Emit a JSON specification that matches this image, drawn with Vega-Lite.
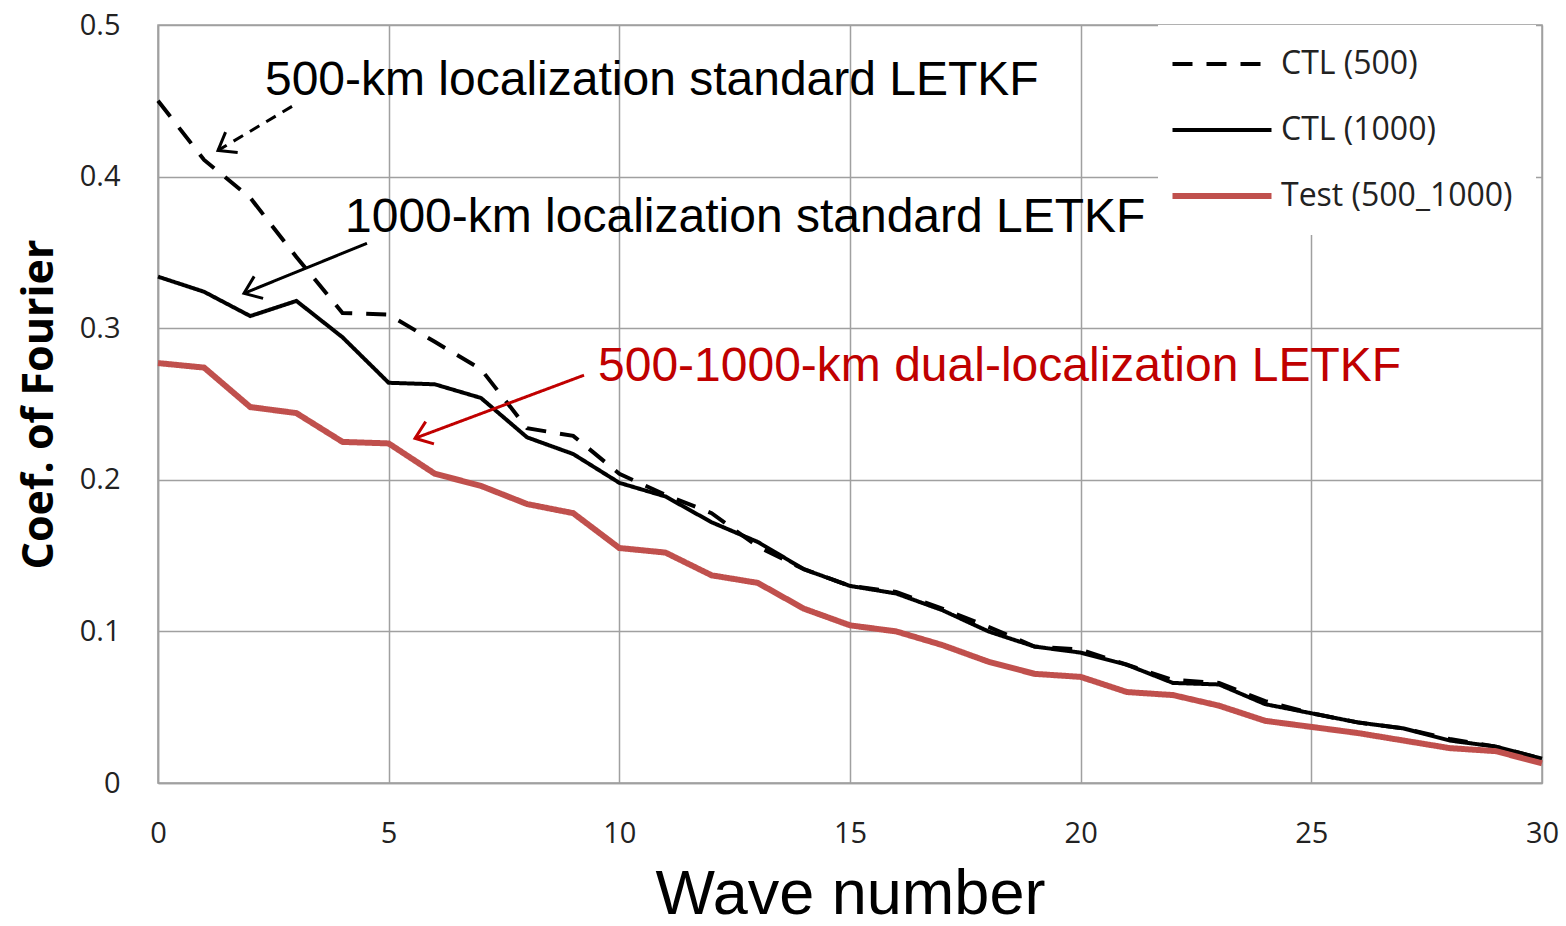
{
  "$schema": "https://vega.github.io/schema/vega-lite/v6.json",
  "autosize": {"type": "none"},
  "width": 1384,
  "height": 758,
  "padding": {"left": 158, "top": 25, "right": 24, "bottom": 143},
  "background": "white",
  "config": {
    "view": {"stroke": "#a0a0a0", "strokeWidth": 1.5},
    "axis": {
      "gridColor": "#a0a0a0", "gridWidth": 1.5, "domainColor": "#a0a0a0", "domainWidth": 1.5,
      "ticks": false, "labelFont": "Open Sans", "labelFontSize": 29, "labelColor": "#222222"
    }
  },
  "layer": [
    {
      "data": {"values": [
        {"wave": 0, "CTL (500)": 0.450, "CTL (1000)": 0.334, "Test (500_1000)": 0.277},
        {"wave": 1, "CTL (500)": 0.411, "CTL (1000)": 0.324, "Test (500_1000)": 0.274},
        {"wave": 2, "CTL (500)": 0.386, "CTL (1000)": 0.308, "Test (500_1000)": 0.248},
        {"wave": 3, "CTL (500)": 0.347, "CTL (1000)": 0.318, "Test (500_1000)": 0.244},
        {"wave": 4, "CTL (500)": 0.310, "CTL (1000)": 0.294, "Test (500_1000)": 0.225},
        {"wave": 5, "CTL (500)": 0.309, "CTL (1000)": 0.264, "Test (500_1000)": 0.224},
        {"wave": 6, "CTL (500)": 0.291, "CTL (1000)": 0.263, "Test (500_1000)": 0.204},
        {"wave": 7, "CTL (500)": 0.273, "CTL (1000)": 0.254, "Test (500_1000)": 0.196},
        {"wave": 8, "CTL (500)": 0.234, "CTL (1000)": 0.228, "Test (500_1000)": 0.184},
        {"wave": 9, "CTL (500)": 0.229, "CTL (1000)": 0.217, "Test (500_1000)": 0.178},
        {"wave": 10, "CTL (500)": 0.204, "CTL (1000)": 0.198, "Test (500_1000)": 0.155},
        {"wave": 11, "CTL (500)": 0.190, "CTL (1000)": 0.189, "Test (500_1000)": 0.152},
        {"wave": 12, "CTL (500)": 0.178, "CTL (1000)": 0.172, "Test (500_1000)": 0.137},
        {"wave": 13, "CTL (500)": 0.156, "CTL (1000)": 0.159, "Test (500_1000)": 0.132},
        {"wave": 14, "CTL (500)": 0.141, "CTL (1000)": 0.141, "Test (500_1000)": 0.115},
        {"wave": 15, "CTL (500)": 0.130, "CTL (1000)": 0.130, "Test (500_1000)": 0.104},
        {"wave": 16, "CTL (500)": 0.126, "CTL (1000)": 0.125, "Test (500_1000)": 0.100},
        {"wave": 17, "CTL (500)": 0.115, "CTL (1000)": 0.114, "Test (500_1000)": 0.091},
        {"wave": 18, "CTL (500)": 0.103, "CTL (1000)": 0.100, "Test (500_1000)": 0.080},
        {"wave": 19, "CTL (500)": 0.090, "CTL (1000)": 0.090, "Test (500_1000)": 0.072},
        {"wave": 20, "CTL (500)": 0.088, "CTL (1000)": 0.086, "Test (500_1000)": 0.070},
        {"wave": 21, "CTL (500)": 0.078, "CTL (1000)": 0.078, "Test (500_1000)": 0.060},
        {"wave": 22, "CTL (500)": 0.068, "CTL (1000)": 0.066, "Test (500_1000)": 0.058},
        {"wave": 23, "CTL (500)": 0.066, "CTL (1000)": 0.065, "Test (500_1000)": 0.051},
        {"wave": 24, "CTL (500)": 0.054, "CTL (1000)": 0.052, "Test (500_1000)": 0.041},
        {"wave": 25, "CTL (500)": 0.046, "CTL (1000)": 0.046, "Test (500_1000)": 0.037},
        {"wave": 26, "CTL (500)": 0.040, "CTL (1000)": 0.040, "Test (500_1000)": 0.033},
        {"wave": 27, "CTL (500)": 0.036, "CTL (1000)": 0.036, "Test (500_1000)": 0.028},
        {"wave": 28, "CTL (500)": 0.029, "CTL (1000)": 0.028, "Test (500_1000)": 0.023},
        {"wave": 29, "CTL (500)": 0.024, "CTL (1000)": 0.024, "Test (500_1000)": 0.021},
        {"wave": 30, "CTL (500)": 0.016, "CTL (1000)": 0.016, "Test (500_1000)": 0.013}
      ]},
      "transform": [{"fold": ["CTL (500)", "CTL (1000)", "Test (500_1000)"], "as": ["series", "coef"]}],
      "mark": {"type": "line", "strokeCap": "butt", "strokeJoin": "miter"},
      "encoding": {
        "x": {
          "field": "wave", "type": "quantitative",
          "scale": {"domain": [0, 30], "nice": false},
          "axis": {
            "values": [0, 5, 10, 15, 20, 25, 30], "title": "Wave number",
            "titleFont": "Liberation Sans", "titleFontSize": 63, "titleFontWeight": "normal",
            "titleColor": "black", "labelPadding": 36, "titlePadding": 15, "labelFlush": false
          }
        },
        "y": {
          "field": "coef", "type": "quantitative",
          "scale": {"domain": [0, 0.5], "nice": false},
          "axis": {
            "values": [0, 0.1, 0.2, 0.3, 0.4, 0.5], "title": "Coef. of Fourier",
            "labelExpr": "datum.value == 0 ? '0' : format(datum.value, '.1f')",
            "titleFont": "Open Sans", "titleFontSize": 43, "titleFontWeight": "bold",
            "titleColor": "black", "labelPadding": 38, "titlePadding": 18
          }
        },
        "color": {
          "field": "series", "type": "nominal",
          "scale": {"domain": ["CTL (500)", "CTL (1000)", "Test (500_1000)"], "range": ["black", "black", "#C0504D"]},
          "legend": {
            "title": null, "orient": "none", "legendX": 1000, "legendY": 0,
            "fillColor": "white", "padding": 23,
            "symbolType": "M -1.485 0 L 4.515 0", "symbolSize": 1089, "symbolFillColor": "transparent",
            "labelFont": "Open Sans", "labelFontSize": 32, "labelColor": "#222222",
            "labelOffset": 68, "labelLimit": 600, "rowPadding": 34,
            "encode": {"symbols": {"update": {
              "strokeWidth": {"signal": "datum.value === 'Test (500_1000)' ? 6 : 4"},
              "fill": {"value": "transparent"}
            }}}
          }
        },
        "strokeDash": {
          "field": "series", "type": "nominal",
          "scale": {"domain": ["CTL (500)", "CTL (1000)", "Test (500_1000)"], "range": [[20, 14], [1, 0], [1, 0]]},
          "legend": {"title": null}
        },
        "strokeWidth": {
          "condition": {"test": "datum.series === 'Test (500_1000)'", "value": 6},
          "value": 4
        }
      }
    },
    {
      "data": {"values": [
        {"id": "a1", "x": 2.905, "y": 0.4463, "x2": 1.301, "y2": 0.4173},
        {"id": "a2", "x": 4.530, "y": 0.356, "x2": 1.864, "y2": 0.323},
        {"id": "a3", "x": 9.234, "y": 0.269, "x2": 5.571, "y2": 0.2274}
      ]},
      "layer": [
        {
          "mark": {"type": "rule", "strokeWidth": 3},
          "encoding": {
            "x": {"field": "x", "type": "quantitative"},
            "y": {"field": "y", "type": "quantitative"},
            "x2": {"field": "x2"},
            "y2": {"field": "y2"},
            "color": {"condition": {"test": "datum.id === 'a3'", "value": "#C00000"}, "value": "black"},
            "strokeDash": {"condition": {"test": "datum.id === 'a1'", "value": [11, 8]}, "value": [1, 0]}
          }
        },
        {
          "transform": [{"filter": "datum.id === 'a1'"}],
          "mark": {"type": "point", "shape": "M -1 -0.75 L 0 0 L -1 0.75", "filled": false, "size": 1000, "strokeWidth": 3, "color": "black", "opacity": 1, "angle": 149.3},
          "encoding": {"x": {"field": "x2", "type": "quantitative"}, "y": {"field": "y2", "type": "quantitative"}}
        },
        {
          "transform": [{"filter": "datum.id === 'a2'"}],
          "mark": {"type": "point", "shape": "M -1 -0.75 L 0 0 L -1 0.75", "filled": false, "size": 1000, "strokeWidth": 3, "color": "black", "opacity": 1, "angle": 157.9},
          "encoding": {"x": {"field": "x2", "type": "quantitative"}, "y": {"field": "y2", "type": "quantitative"}}
        },
        {
          "transform": [{"filter": "datum.id === 'a3'"}],
          "mark": {"type": "point", "shape": "M -1 -0.75 L 0 0 L -1 0.75", "filled": false, "size": 1000, "strokeWidth": 3, "color": "#C00000", "opacity": 1, "angle": 159.6},
          "encoding": {"x": {"field": "x2", "type": "quantitative"}, "y": {"field": "y2", "type": "quantitative"}}
        }
      ]
    },
    {
      "data": {"values": [
        {"label": "500-km localization standard LETKF", "x": 2.319, "y": 0.4535, "red": false},
        {"label": "1000-km localization standard LETKF", "x": 4.054, "y": 0.3632, "red": false},
        {"label": "500-1000-km dual-localization LETKF", "x": 9.538, "y": 0.265, "red": true}
      ]},
      "mark": {"type": "text", "font": "Liberation Sans", "fontSize": 48, "align": "left", "baseline": "alphabetic"},
      "encoding": {
        "x": {"field": "x", "type": "quantitative"},
        "y": {"field": "y", "type": "quantitative"},
        "text": {"field": "label"},
        "color": {"condition": {"test": "datum.red", "value": "#C00000"}, "value": "black"}
      }
    }
  ]
}
